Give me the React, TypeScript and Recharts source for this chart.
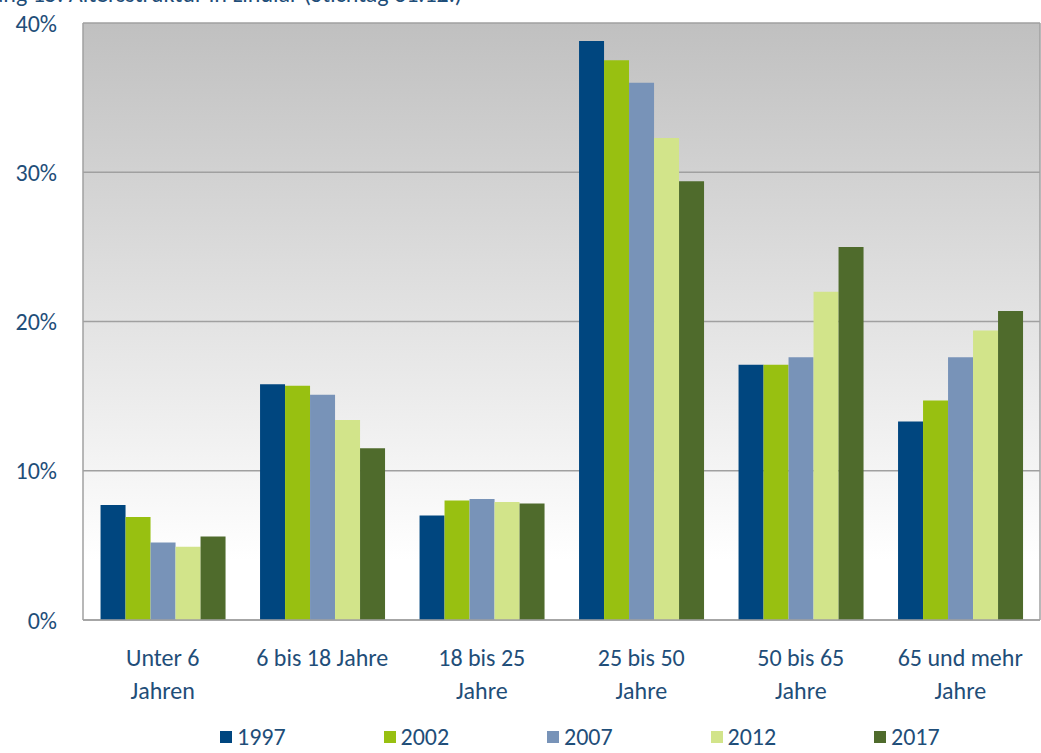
import {
  Bar,
  BarChart,
  CartesianGrid,
  Legend,
  XAxis,
  YAxis,
} from 'recharts';

const categories = [
  'Unter 6|Jahren',
  '6 bis 18 Jahre',
  '18 bis 25|Jahre',
  '25 bis 50|Jahre',
  '50 bis 65|Jahre',
  '65 und mehr|Jahre',
];
const years = ['1997', '2002', '2007', '2012', '2017'];
const v1997 = [7.7, 15.8, 7.0, 38.8, 17.1, 13.3];
const v2002 = [6.9, 15.7, 8.0, 37.5, 17.1, 14.7];
const v2007 = [5.2, 15.1, 8.1, 36.0, 17.6, 17.6];
const v2012 = [4.9, 13.4, 7.9, 32.3, 22.0, 19.4];
const v2017 = [5.6, 11.5, 7.8, 29.4, 25.0, 20.7];
const yTicks = [0, 10, 20, 30, 40];

const COLORS = ['#00467f', '#98c011', '#7893b8', '#d2e48a', '#4f6b2c'];
const TEXT = '#1f4e79';
const FONT = "Carlito, 'Liberation Sans Narrow', 'Open Sans', sans-serif";

const series = [v1997, v2002, v2007, v2012, v2017];
const data = categories.map((c, i) => {
  const row: Record<string, string | number> = { name: c };
  years.forEach((y, k) => (row[y] = series[k][i]));
  return row;
});

function CategoryTick({ x, y, payload }: any) {
  const lines = String(payload.value).split('|');
  return (
    <text x={x} y={y} textAnchor="middle" fill={TEXT} fontSize={24} fontFamily={FONT}>
      {lines.map((l, i) => (
        <tspan key={i} x={x} dy={i === 0 ? 38 : 33}>
          {l}
        </tspan>
      ))}
    </text>
  );
}

function renderLegend() {
  return (
    <div style={{ position: 'relative', height: 30, fontFamily: FONT, fontSize: 24, color: TEXT }}>
      {years.map((y, i) => (
        <div
          key={y}
          style={{
            position: 'absolute',
            left: 220 + i * 163.5,
            top: 3,
            display: 'flex',
            alignItems: 'center',
            lineHeight: '22px',
          }}
        >
          <span style={{ width: 12, height: 12, background: COLORS[i], marginRight: 5 }} />
          {y}
        </div>
      ))}
    </div>
  );
}

export default function App() {
  return (
    <div style={{ position: 'absolute', left: 0, top: 0, width: 1041, height: 753, overflow: 'hidden', background: '#fff' }}>
      <div
        style={{
          position: 'absolute',
          left: -72,
          top: -21,
          fontFamily: FONT,
          fontSize: 24,
          color: TEXT,
          whiteSpace: 'nowrap',
        }}
      >
        Abbildung 15: Altersstruktur in Lindlar (Stichtag 31.12.)
      </div>
      <BarChart
        width={1041}
        height={753}
        data={data}
        margin={{ top: 23, right: 0, left: 0, bottom: 0 }}
        barCategoryGap="11%"
        barGap={0}
      >
        <defs>
          <linearGradient id="bg" x1="0" y1="0" x2="0" y2="1">
            <stop offset="0" stopColor="#c0c0c0" />
            <stop offset="0.9" stopColor="#ffffff" />
            <stop offset="1" stopColor="#ffffff" />
          </linearGradient>
        </defs>
        <CartesianGrid vertical={false} stroke="#a0a0a0" strokeWidth={1.5} fill="url(#bg)" fillOpacity={1} />
        <XAxis
          dataKey="name"
          axisLine={{ stroke: '#a0a0a0', strokeWidth: 1.5 }}
          tickLine={false}
          tick={<CategoryTick />}
          interval={0}
          height={103}
        />
        <YAxis
          domain={[0, 40]}
          ticks={yTicks}
          tickFormatter={(v) => `${v}%`}
          width={83}
          tickSize={6}
          tickMargin={20}
          tickLine={false}
          axisLine={{ stroke: '#a0a0a0', strokeWidth: 1.5 }}
          tick={{ fill: TEXT, fontSize: 24, fontFamily: FONT }}
        />
        <YAxis
          yAxisId="r"
          orientation="right"
          width={1}
          tick={false}
          tickLine={false}
          axisLine={{ stroke: '#a0a0a0', strokeWidth: 1.5 }}
        />
        <Legend verticalAlign="bottom" height={30} content={renderLegend} />
        {years.map((y, i) => (
          <Bar key={y} dataKey={y} fill={COLORS[i]} isAnimationActive={false} />
        ))}
      </BarChart>
    </div>
  );
}
